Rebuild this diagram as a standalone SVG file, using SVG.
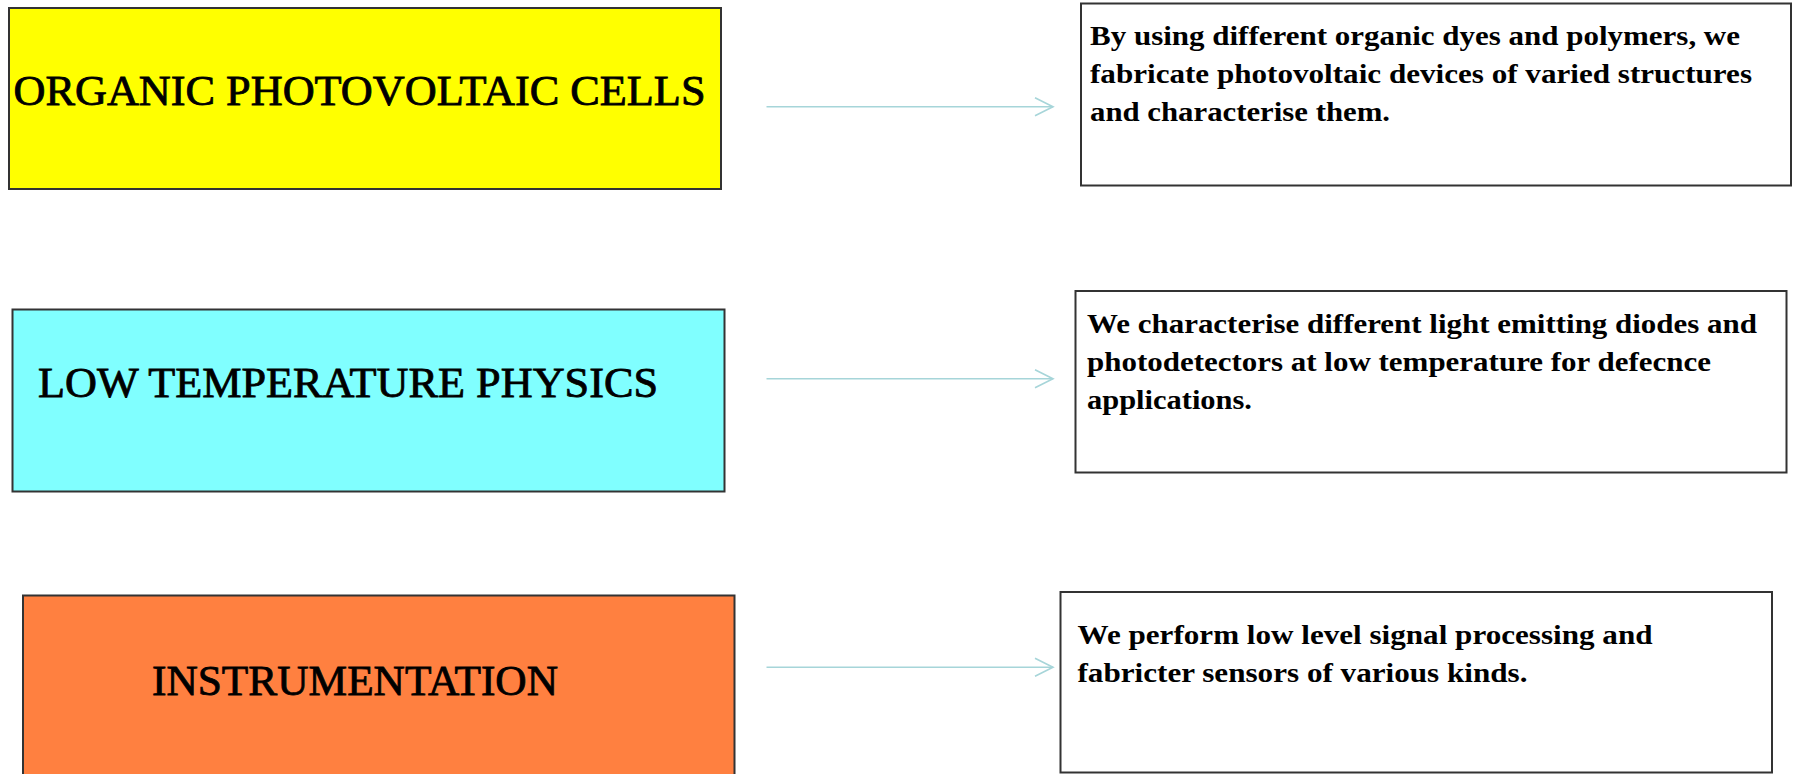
<svg xmlns="http://www.w3.org/2000/svg" width="1794" height="774" viewBox="0 0 1794 774">
<style>
.box{stroke:#333333;stroke-width:2}
.title{font-family:"Liberation Serif","Times New Roman",serif;font-size:42px;fill:#000;stroke:#000;stroke-width:0.8}
.desc{font-family:"Liberation Serif","Times New Roman",serif;font-size:27px;font-weight:bold;fill:#000}
.conn{stroke:#a6d5d9;stroke-width:1.6;fill:none}
</style>
<defs>
<marker id="chev" markerUnits="userSpaceOnUse" markerWidth="22" markerHeight="22" refX="19" refY="10" orient="auto" viewBox="0 0 22 20">
<path d="M1,1 L19,10 L1,19" fill="none" stroke="#a6d5d9" stroke-width="1.6"/>
</marker>
</defs>
<rect width="1794" height="774" fill="#ffffff"/>

<g id="node-opv">
<rect class="box" x="9" y="8" width="712" height="181" fill="#ffff00"/>
<text class="title" x="13.5" y="105" textLength="692" lengthAdjust="spacingAndGlyphs">ORGANIC PHOTOVOLTAIC CELLS</text>
</g>
<g id="node-ltp">
<rect class="box" x="12.5" y="309.5" width="712" height="182" fill="#80ffff"/>
<text class="title" x="38" y="397" textLength="620" lengthAdjust="spacingAndGlyphs">LOW TEMPERATURE PHYSICS</text>
</g>
<g id="node-inst">
<rect class="box" x="23" y="595.5" width="711.5" height="190" fill="#ff8040"/>
<text class="title" x="152" y="695" textLength="406" lengthAdjust="spacingAndGlyphs">INSTRUMENTATION</text>
</g>

<g id="desc-opv">
<rect class="box" x="1081" y="3.5" width="710" height="182" fill="#ffffff"/>
<text class="desc" x="1090" y="45" textLength="650" lengthAdjust="spacingAndGlyphs">By using different organic dyes and polymers, we</text>
<text class="desc" x="1090" y="83" textLength="662" lengthAdjust="spacingAndGlyphs">fabricate photovoltaic devices of varied structures</text>
<text class="desc" x="1090" y="120.5" textLength="300" lengthAdjust="spacingAndGlyphs">and characterise them.</text>
</g>
<g id="desc-ltp">
<rect class="box" x="1075.5" y="291" width="711" height="181.5" fill="#ffffff"/>
<text class="desc" x="1087" y="332.5" textLength="670" lengthAdjust="spacingAndGlyphs">We characterise different light emitting diodes and</text>
<text class="desc" x="1087" y="371" textLength="624" lengthAdjust="spacingAndGlyphs">photodetectors at low temperature for defecnce</text>
<text class="desc" x="1087" y="408.5" textLength="165" lengthAdjust="spacingAndGlyphs">applications.</text>
</g>
<g id="desc-inst">
<rect class="box" x="1060.5" y="592" width="711.5" height="180.5" fill="#ffffff"/>
<text class="desc" x="1077.5" y="644" textLength="575" lengthAdjust="spacingAndGlyphs">We perform low level signal processing and</text>
<text class="desc" x="1077.5" y="681.5" textLength="450" lengthAdjust="spacingAndGlyphs">fabricter sensors of various kinds.</text>
</g>

<g id="connectors">
<line class="conn" x1="766.5" y1="106.7" x2="1053" y2="106.7" marker-end="url(#chev)"/>
<line class="conn" x1="766.5" y1="378.7" x2="1053" y2="378.7" marker-end="url(#chev)"/>
<line class="conn" x1="766.5" y1="667.3" x2="1053" y2="667.3" marker-end="url(#chev)"/>
</g>
</svg>
